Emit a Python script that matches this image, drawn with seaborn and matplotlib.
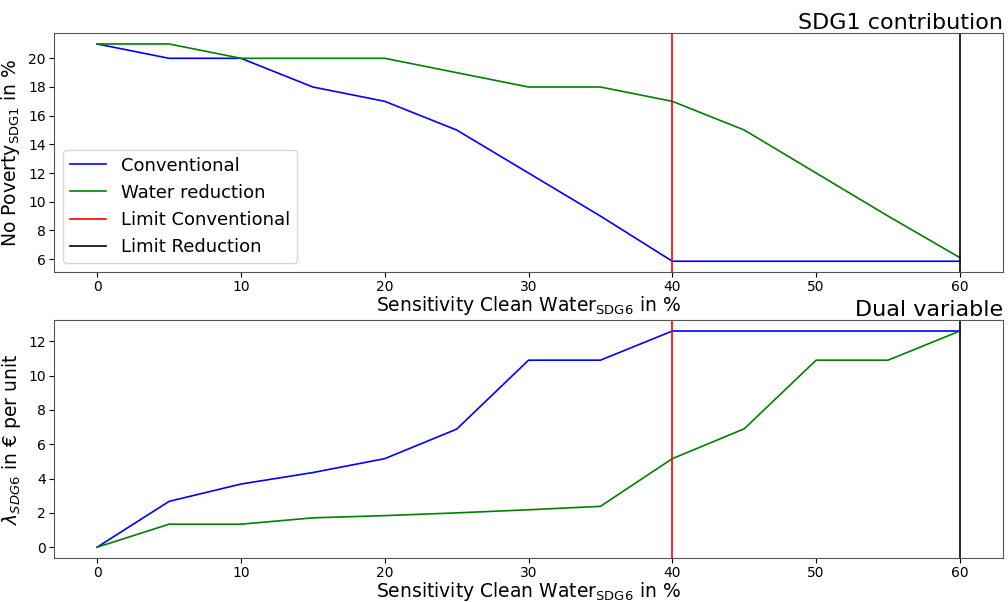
import numpy as np
import pandas as pd
import matplotlib
matplotlib.use("Agg")
import matplotlib.pyplot as plt
import seaborn as sns

# sensitivity steps (x axis, in %)
sensitivity = [0, 5, 10, 15, 20, 25, 30, 35, 40, 45, 50, 55, 60]

# SDG1 contribution (No Poverty in %)
poverty_conventional = [21, 20, 20, 18, 17, 15, 12, 9, 5.85, 5.85, 5.85, 5.85, 5.85]
poverty_reduction = [21, 21, 20, 20, 20, 19, 18, 18, 17, 15, 12, 9, 6.1]

# dual variable (lambda SDG6 in EUR per unit)
dual_conventional = [0, 2.67, 3.68, 4.35, 5.16, 6.88, 10.9, 10.9, 12.6, 12.6, 12.6, 12.6, 12.6]
dual_reduction = [0, 1.34, 1.34, 1.71, 1.84, 2.0, 2.18, 2.38, 5.16, 6.9, 10.9, 10.9, 12.6]

limit_conventional = 40
limit_reduction = 60

series_names = ["Conventional", "Water reduction"]
series_colors = ["blue", "green"]

plt.rcParams["font.family"] = ["DejaVu Sans"]

top = pd.DataFrame({"x": sensitivity * 2,
                    "y": poverty_conventional + poverty_reduction,
                    "series": [series_names[0]] * len(sensitivity) + [series_names[1]] * len(sensitivity)})
bottom = pd.DataFrame({"x": sensitivity * 2,
                       "y": dual_conventional + dual_reduction,
                       "series": [series_names[0]] * len(sensitivity) + [series_names[1]] * len(sensitivity)})

fig = plt.figure(figsize=(10.08, 6.02), dpi=100)
ax1 = fig.add_axes([0.0536, 0.548, 0.9415, 0.397])
ax2 = fig.add_axes([0.0536, 0.0731, 0.9415, 0.395])

palette = dict(zip(series_names, series_colors))
xlabel = r"Sensitivity Clean Water$_{\mathrm{SDG6}}$ in %"

for ax, df in [(ax1, top), (ax2, bottom)]:
    sns.lineplot(data=df, x="x", y="y", hue="series", palette=palette, ax=ax, linewidth=1.2, legend=False)
    ax.axvline(limit_conventional, color="red", linewidth=1.2, label="Limit Conventional")
    ax.axvline(limit_reduction, color="black", linewidth=1.2, label="Limit Reduction")
    ax.set_xlabel(xlabel, fontsize=13.5, labelpad=0)
    ax.tick_params(labelsize=10, pad=2.5)
    for s in ax.spines.values():
        s.set_color("#555555")

ax1.set_ylabel(r"No Poverty$_{\mathrm{SDG1}}$ in %", fontsize=13.5)
ax1.set_title("SDG1 contribution", loc="right", fontsize=16, pad=3)
ax1.set_yticks([6, 8, 10, 12, 14, 16, 18, 20])
ax1.legend(handles=ax1.get_lines(), labels=series_names + ["Limit Conventional", "Limit Reduction"],
           loc="lower left", fontsize=13)

ax2.set_ylabel(r"$\lambda_{SDG6}$ in € per unit", fontsize=13.5)
ax2.set_title("Dual variable", loc="right", fontsize=16, pad=3)
ax2.set_yticks([0, 2, 4, 6, 8, 10, 12])

fig.savefig("out.png", dpi=100)
